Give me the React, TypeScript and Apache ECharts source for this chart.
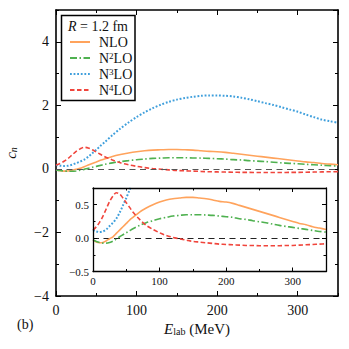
import React, { useEffect, useRef } from 'react';
import * as echarts from 'echarts';

const energies = [0, 5, 10, 15, 20, 25, 30, 35, 40, 45, 50, 55, 60, 70, 80, 90, 100, 110, 120, 130, 140, 150, 160, 170, 180, 190, 200, 210, 220, 230, 240, 250, 260, 270, 280, 290, 300, 310, 320, 330, 340, 350];

const nlo = [-0.03, -0.06, -0.07, -0.065, -0.04, -0.01, 0.02, 0.07, 0.12, 0.17, 0.22, 0.27, 0.31, 0.39, 0.45, 0.5, 0.54, 0.57, 0.59, 0.6, 0.61, 0.61, 0.6, 0.59, 0.57, 0.55, 0.54, 0.52, 0.49, 0.46, 0.43, 0.4, 0.37, 0.34, 0.31, 0.28, 0.25, 0.22, 0.2, 0.17, 0.15, 0.13];
const n2lo = [-0.03, -0.05, -0.065, -0.075, -0.075, -0.065, -0.045, -0.015, 0.02, 0.05, 0.08, 0.11, 0.14, 0.19, 0.23, 0.26, 0.29, 0.31, 0.33, 0.34, 0.35, 0.35, 0.35, 0.345, 0.34, 0.33, 0.32, 0.31, 0.29, 0.28, 0.26, 0.245, 0.23, 0.21, 0.19, 0.175, 0.16, 0.145, 0.13, 0.115, 0.1, 0.09];
const n3lo = [0.12, 0.1, 0.09, 0.1, 0.13, 0.18, 0.23, 0.29, 0.38, 0.49, 0.6, 0.72, 0.83, 1.06, 1.27, 1.46, 1.63, 1.78, 1.91, 2.02, 2.11, 2.18, 2.23, 2.27, 2.3, 2.31, 2.31, 2.3, 2.28, 2.24, 2.19, 2.13, 2.07, 2.01, 1.94, 1.87, 1.8, 1.71, 1.63, 1.55, 1.5, 1.45];
const n4lo = [0.12, 0.17, 0.24, 0.33, 0.44, 0.55, 0.63, 0.68, 0.66, 0.6, 0.53, 0.46, 0.39, 0.28, 0.19, 0.13, 0.08, 0.04, 0.01, -0.01, -0.03, -0.05, -0.06, -0.07, -0.08, -0.09, -0.095, -0.1, -0.105, -0.11, -0.11, -0.115, -0.115, -0.115, -0.115, -0.11, -0.11, -0.105, -0.1, -0.095, -0.09, -0.085];

const seriesNames = ['NLO', 'N2LO', 'N3LO', 'N4LO'];
const seriesValues = [nlo, n2lo, n3lo, n4lo];
const seriesColors = ['#ffa35c', '#4fb150', '#3f9fdc', '#f0453c'];
const seriesDash: any[] = ['solid', [7, 2.5, 1.5, 2.5], [1.8, 1.8], [4.5, 2.5]];

const mainXTicks = [0, 100, 200, 300];
const mainYTicks = [-4, -2, 0, 2, 4];
const insetYTicks = [-0.5, 0.0, 0.5];

const FONT = 'Liberation Serif';

function makeXAxes(grid: number, major: number, minor: number, lw: number, majLen: number, minLen: number, fontSize: number, margin: number, name?: any) {
  const base = { type: 'value', gridIndex: grid, min: 0, max: 350, splitLine: { show: false } };
  const line = { show: true, onZero: false, lineStyle: { color: '#000', width: lw } };
  const res: any[] = [];
  ['bottom', 'top'].forEach((pos) => {
    res.push({
      ...base, position: pos, interval: major,
      axisLine: line,
      axisTick: { show: true, inside: true, length: majLen, lineStyle: { color: '#000', width: 1 } },
      axisLabel: pos === 'bottom' ? {
        show: true, showMaxLabel: false, fontFamily: FONT, fontSize, color: '#111', margin,
        formatter: (v: number) => (mainXTicks.includes(v) ? String(v) : ''),
      } : { show: false },
      ...(pos === 'bottom' && name ? name : {}),
    });
    res.push({
      ...base, position: pos, interval: minor,
      axisLine: { show: false, onZero: false },
      axisTick: { show: true, inside: true, length: minLen, lineStyle: { color: '#000', width: 1 } },
      axisLabel: { show: false },
    });
  });
  return res;
}

function makeYAxes(grid: number, min: number, max: number, major: number, minor: number, lw: number, majLen: number, minLen: number, fontSize: number, margin: number, fmt: (v: number) => string, name?: any) {
  const base = { type: 'value', gridIndex: grid, min, max, splitLine: { show: false } };
  const line = { show: true, onZero: false, lineStyle: { color: '#000', width: lw } };
  const res: any[] = [];
  ['left', 'right'].forEach((pos) => {
    res.push({
      ...base, position: pos, interval: major,
      axisLine: line,
      axisTick: { show: true, inside: true, length: majLen, lineStyle: { color: '#000', width: 1 } },
      axisLabel: pos === 'left' ? {
        show: true, showMaxLabel: false, fontFamily: FONT, fontSize, color: '#111', margin, formatter: fmt,
      } : { show: false },
      ...(pos === 'left' && name ? name : {}),
    });
    res.push({
      ...base, position: pos, interval: minor,
      axisLine: { show: false, onZero: false },
      axisTick: { show: true, inside: true, length: minLen, lineStyle: { color: '#000', width: 1 } },
      axisLabel: { show: false },
    });
  });
  return res;
}

export default function App() {
  const ref = useRef<HTMLDivElement>(null);
  useEffect(() => {
    if (!ref.current) return;
    const chart = echarts.init(ref.current, null, { renderer: 'svg' });
    const mainFmt = (v: number) => (mainYTicks.includes(v) ? String(v).replace('-', '\u2212') : '');
    const insetFmt = (v: number) => (insetYTicks.includes(v) ? v.toFixed(1).replace('-', '\u2212') : '');

    const xAxes = [
      ...makeXAxes(0, 100, 50, 1.6, 5, 3, 14, 7, {
        name: '{i|E}{sub|lab} (MeV)', nameLocation: 'middle', nameGap: 23,
        nameTextStyle: { fontFamily: FONT, fontSize: 15, color: '#111', rich: { i: { fontStyle: 'italic', fontFamily: FONT, fontSize: 15 }, sub: { fontSize: 10, fontFamily: FONT, verticalAlign: 'bottom' } } },
      }),
      ...makeXAxes(1, 100, 50, 1.3, 4, 2.5, 11, 4).map((a) => ({ ...a, z: 8 })),
    ];
    const yAxes = [
      ...makeYAxes(0, -4, 5, 2, 1, 1.6, 5, 3, 14, 7, mainFmt, {
        name: '{i|c}{sub|n}', nameLocation: 'middle', nameGap: 38,
        nameTextStyle: { fontFamily: FONT, fontSize: 15, color: '#111', rich: { i: { fontStyle: 'italic', fontFamily: FONT, fontSize: 15 }, sub: { fontSize: 10, fontStyle: 'italic', fontFamily: FONT, verticalAlign: 'bottom' } } },
      }),
      ...makeYAxes(1, -0.5, 0.75, 0.5, 0.25, 1.3, 4, 2.5, 11, 4, insetFmt).map((a) => ({ ...a, z: 8 })),
    ];

    const series: any[] = [];
    seriesNames.forEach((name, i) => {
      const data = energies.map((e, k) => [e, seriesValues[i][k]]);
      [0, 1].forEach((g) => {
        series.push({
          type: 'line', name, data, smooth: 0.3, symbol: 'none', showSymbol: false,
          xAxisIndex: g * 4, yAxisIndex: g * 4, clip: true, z: g === 0 ? 2 : 6,
          lineStyle: { color: seriesColors[i], width: i === 2 ? 2 : 1.6, type: seriesDash[i], cap: 'butt' },
          itemStyle: { color: seriesColors[i] },
          ...(i === 0 ? {
            markLine: {
              symbol: 'none', silent: true, animation: false, label: { show: false },
              lineStyle: { type: [6, 4.5], color: g === 0 ? '#555' : '#222', width: 1.2 },
              data: [{ yAxis: 0 }],
            },
          } : {}),
        });
      });
    });

    chart.setOption({
      animation: false,
      backgroundColor: '#fff',
      grid: [
        { left: 56, top: 10, width: 282, height: 286, show: false, containLabel: false, outerBoundsMode: 'none' },
        { left: 93, top: 188, width: 233, height: 83.5, show: true, backgroundColor: '#fff', borderWidth: 0, z: 5, containLabel: false, outerBoundsMode: 'none' },
      ],
      xAxis: xAxes,
      yAxis: yAxes,
      legend: {
        data: seriesNames, orient: 'vertical', left: 69, top: 35, padding: 0,
        itemWidth: 20, itemHeight: 14, itemGap: 2, z: 4,
        itemStyle: { opacity: 0 },
        formatter: (n: string) => n.replace(/N(\d)LO/, 'N{sup|$1}LO'),
        textStyle: {
          fontFamily: FONT, fontSize: 14, color: '#111', padding: [0, 0, 0, 4],
          rich: { sup: { fontSize: 9, fontFamily: FONT, verticalAlign: 'top', padding: [0, 0, 4, 0] } },
        },
      },
      graphic: [
        { type: 'rect', z: 3, shape: { x: 61.5, y: 15.5, width: 73.5, height: 85 }, style: { fill: '#fff', stroke: '#000', lineWidth: 1.5 } },
        {
          type: 'text', z: 5, x: 98, y: 26,
          style: {
            text: '{i|R} = 1.2 fm', fontFamily: FONT, fontSize: 14, fill: '#111', textAlign: 'center', textVerticalAlign: 'middle',
            rich: { i: { fontStyle: 'italic', fontFamily: FONT, fontSize: 14, fill: '#111' } },
          },
        },
        { type: 'text', z: 5, x: 17, y: 317, style: { text: '(b)', fontFamily: FONT, fontSize: 14, fill: '#111' } },
      ],
      series,
    });
    return () => chart.dispose();
  }, []);
  return <div ref={ref} style={{ position: 'absolute', left: 0, top: 0, width: 349, height: 349 }} />;
}
